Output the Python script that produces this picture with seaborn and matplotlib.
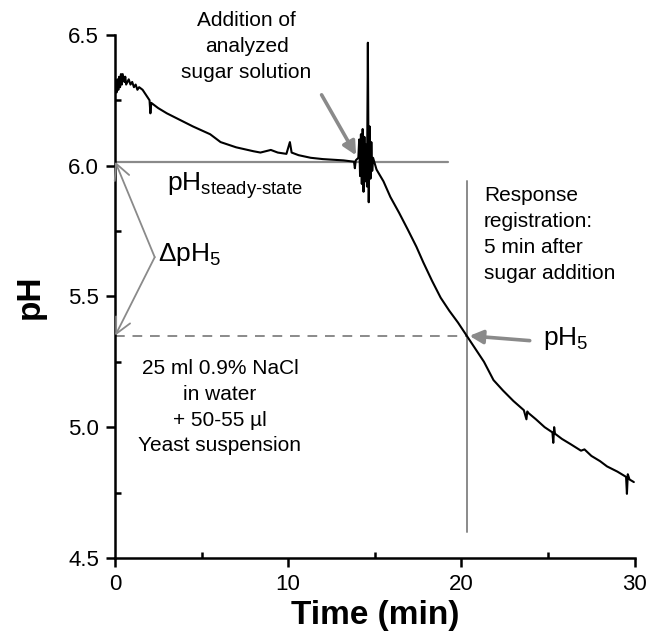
import numpy as np
import pandas as pd
import matplotlib
matplotlib.use('Agg')
import matplotlib.pyplot as plt
import seaborn as sns
from matplotlib.ticker import MultipleLocator

# pH trace (time in min, pH)
time_min = [0.0, 0.05, 0.1, 0.15, 0.2, 0.25, 0.3, 0.35, 0.4, 0.45, 0.55, 0.6, 0.65,
            0.8, 0.9, 1.0, 1.1, 1.2, 1.3, 1.4, 1.6, 1.8, 2.0, 2.05, 2.1, 2.5, 3.0,
            3.6, 4.5, 5.5, 6.1, 7.0, 8.0, 8.4, 9.0, 9.4, 9.9, 10.1, 10.2, 10.6,
            11.3, 12.0, 13.2, 13.8, 13.85, 13.9, 14.05,
            14.1, 14.15, 14.2, 14.25, 14.3, 14.35, 14.4, 14.45, 14.5, 14.55,
            14.6, 14.65, 14.7, 14.75, 14.8, 14.85, 14.9, 15.1,
            15.5, 15.9, 16.4, 16.9, 17.4, 17.8, 18.3, 18.8, 19.3, 19.8, 20.3,
            20.8, 21.3, 21.85, 22.4, 23.0, 23.6, 23.75, 23.8, 23.85, 24.3,
            24.8, 25.25, 25.3, 25.35, 25.4, 25.8, 26.3, 26.9, 27.1, 27.5,
            28.0, 28.4, 29.0, 29.5, 29.55, 29.6, 29.7, 29.95]
ph_values = [6.27, 6.30, 6.28, 6.33, 6.29, 6.34, 6.30, 6.35, 6.31, 6.35, 6.32, 6.34, 6.31,
             6.33, 6.31, 6.32, 6.30, 6.31, 6.29, 6.30, 6.29, 6.27, 6.25, 6.20, 6.24, 6.22, 6.20,
             6.18, 6.15, 6.12, 6.09, 6.07, 6.055, 6.05, 6.06, 6.05, 6.045, 6.09, 6.05, 6.04,
             6.03, 6.025, 6.02, 6.015, 5.99, 6.02, 6.03,
             6.10, 5.96, 6.12, 5.93, 6.14, 5.90, 6.11, 5.94, 6.08, 5.92,
             6.47, 5.86, 6.15, 5.95, 6.09, 5.98, 6.03, 5.985,
             5.94, 5.88, 5.82, 5.756, 5.69, 5.63, 5.56, 5.495, 5.445, 5.40, 5.35,
             5.30, 5.25, 5.18, 5.14, 5.10, 5.065, 5.03, 5.06, 5.055, 5.03,
             5.00, 4.98, 4.94, 5.00, 4.975, 4.955, 4.935, 4.91, 4.915, 4.89,
             4.87, 4.85, 4.83, 4.81, 4.745, 4.82, 4.80, 4.79]

# annotation values
ph_steady = 6.015
ph_5 = 5.35
t_addition = 14.0
t_response = 20.3
steady_line_end = 19.25

df = pd.DataFrame({'Time': time_min, 'pH': ph_values})

sns.set_style('ticks')
plt.rcParams['font.family'] = ['Liberation Sans', 'DejaVu Sans']
plt.rcParams['mathtext.fontset'] = 'custom'
plt.rcParams['mathtext.rm'] = 'Liberation Sans'
plt.rcParams['mathtext.it'] = 'Liberation Sans'
for key in ['text.color', 'axes.labelcolor', 'xtick.color', 'ytick.color', 'axes.edgecolor']:
    plt.rcParams[key] = 'black'

fig = plt.figure(figsize=(6.49, 6.34), dpi=100)
ax = fig.add_axes([0.177, 0.12, 0.801, 0.825])

sns.lineplot(data=df, x='Time', y='pH', ax=ax, color='black', linewidth=1.5,
             estimator=None, sort=False)

grey = '#8a8a8a'

# reference lines
ax.plot([0, steady_line_end], [ph_steady, ph_steady], color=grey, lw=1.6, zorder=1)
ax.plot([0, t_response], [ph_5, ph_5], color=grey, lw=1.4, ls=(0, (5, 4)), zorder=1)
ax.plot([t_response, t_response], [4.6, 5.94], color=grey, lw=1.4, zorder=1)

# arrows
ax.annotate('', xy=(t_addition, 6.03), xytext=(11.85, 6.28),
            arrowprops=dict(arrowstyle='-|>', color=grey, lw=2.6, mutation_scale=20))
ax.annotate('', xy=(t_response, ph_5), xytext=(24.1, 5.33),
            arrowprops=dict(arrowstyle='-|>', color=grey, lw=2.6, mutation_scale=20))
for y_end in [ph_steady, ph_5]:
    ax.annotate('', xy=(0.02, y_end), xytext=(2.3, 5.65),
                arrowprops=dict(arrowstyle='->', color=grey, lw=1.3, mutation_scale=28,
                                shrinkA=0, shrinkB=0))

# texts
ax.text(7.6, 6.455, 'Addition of\nanalyzed\nsugar solution', ha='center', va='center',
        fontsize=15, linespacing=1.45)
ax.text(3.0, 5.925, r'pH$_{\text{steady-state}}$', ha='left', va='center', fontsize=19)
ax.text(2.5, 5.66, r'$\Delta$pH$_5$', ha='left', va='center', fontsize=19)
ax.text(24.7, 5.34, r'pH$_5$', ha='left', va='center', fontsize=19)
ax.text(21.3, 5.737, 'Response\nregistration:\n5 min after\nsugar addition', ha='left',
        va='center', fontsize=15, linespacing=1.45)
ax.text(6.06, 5.076, '25 ml 0.9% NaCl\nin water\n+ 50-55 \u00b5l\nYeast suspension',
        ha='center', va='center', fontsize=15, linespacing=1.45)

ax.set_xlim(0, 30)
ax.set_ylim(4.5, 6.5)
ax.xaxis.set_major_locator(MultipleLocator(10))
ax.xaxis.set_minor_locator(MultipleLocator(5))
ax.yaxis.set_minor_locator(MultipleLocator(0.25))
ax.set_yticks([4.5, 5.0, 5.5, 6.0, 6.5])
ax.set_yticklabels(['4.5', '5.0', '5.5', '6.0', '6.5'])

ax.tick_params(which='major', direction='out', length=6.5, width=1.8, labelsize=16, pad=5)
ax.tick_params(which='minor', direction='in', length=4, width=1.8)
for side in ['left', 'bottom']:
    ax.spines[side].set_linewidth(1.8)
sns.despine(ax=ax)

ax.set_xlabel('Time (min)', fontsize=24, fontweight='bold', labelpad=4)
ax.set_ylabel('pH', fontsize=24, fontweight='bold', labelpad=16)

fig.savefig('out.png', dpi=100)
